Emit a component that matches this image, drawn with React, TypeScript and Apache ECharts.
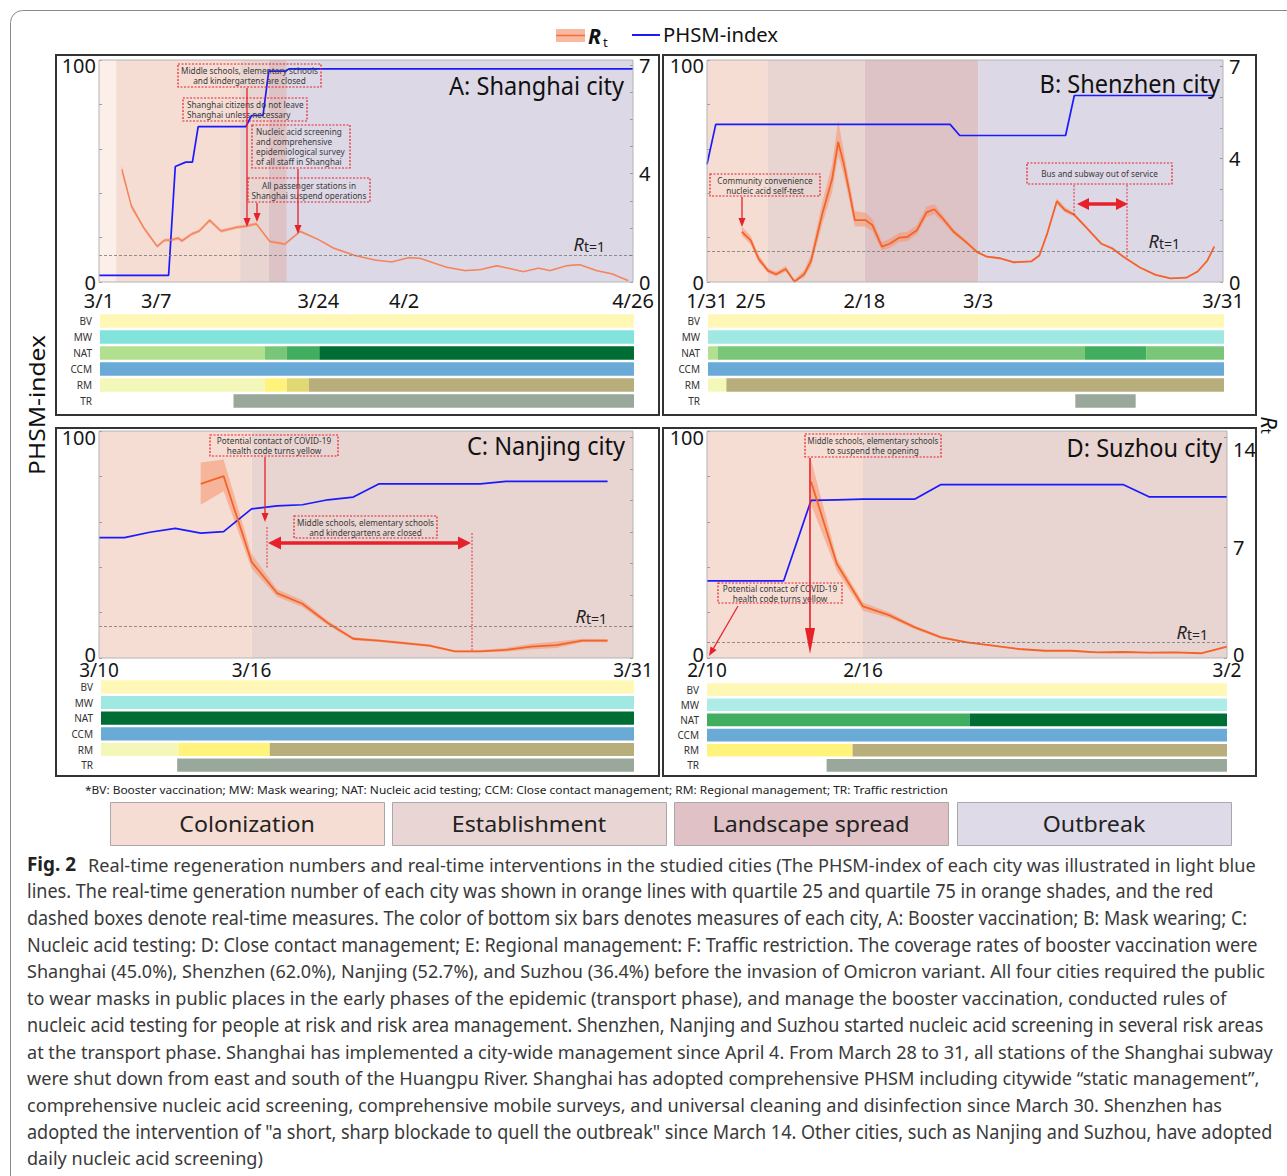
import React, { useEffect, useRef } from "react";
import * as echarts from "echarts";

const W = 1287;
const H = 1176;
const FONT = '"Noto Sans", "Open Sans", "DejaVu Sans", sans-serif';
const RED = "#e8202a";

// ---------------- categories & ticks ----------------
const panelTitles = ["A: Shanghai city", "B: Shenzhen city", "C: Nanjing city", "D: Suzhou city"];
const spanDays = [56, 59, 21, 20];
const tickDaysA = [0, 6, 23, 32, 56];
const tickLabelsA = ["3/1", "3/7", "3/24", "4/2", "4/26"];
const tickDaysB = [0, 5, 18, 31, 59];
const tickLabelsB = ["1/31", "2/5", "2/18", "3/3", "3/31"];
const tickDaysC = [0, 6, 21];
const tickLabelsC = ["3/10", "3/16", "3/31"];
const tickDaysD = [0, 6, 20];
const tickLabelsD = ["2/10", "2/16", "3/2"];
const rtMax = [8.2, 7.2, 7.2, 14.4];
const rtTickValsA = [0, 4, 8];
const rtTickTextA = ["0", "4", "7"];
const rtTickValsB = [0, 4, 7];
const rtTickTextB = ["0", "4", "7"];
const rtTickValsC: number[] = [];
const rtTickTextC: string[] = [];
const rtTickValsD = [0, 7, 13.2];
const rtTickTextD = ["0", "7", "14"];
const measureRows = ["BV", "MW", "NAT", "CCM", "RM", "TR"];
const stageNames = ["Colonization", "Establishment", "Landscape spread", "Outbreak"];

// ---------------- epidemic stages [startDay, endDay, stage] ----------------
const stagesA = [[0, 1.8, 0], [1.8, 14.8, 1], [14.8, 17.8, 2], [17.8, 19.7, 3], [19.7, 56, 4]];
const stagesB = [[0, 6.9, 1], [6.9, 18.05, 2], [18.05, 31, 3], [31, 59, 4]];
const stagesC = [[0, 6, 1], [6, 21, 2]];
const stagesD = [[0, 6, 1], [6, 20, 2]];

// ---------------- PHSM-index [day, value] ----------------
const phsmA = [[0, 3], [7.3, 3], [8.0, 52], [9.1, 54], [9.8, 54], [10.4, 70], [15.4, 70], [16.0, 75], [17.2, 75], [17.8, 95], [19.6, 95], [19.9, 96], [56, 96]];
const phsmB = [[0, 53], [1, 71], [27.8, 71], [28.9, 66], [41, 66], [42, 84], [58, 84]];
const phsmC = [[0, 53], [1, 53], [2, 55.4], [3, 57.1], [4, 55], [4.9, 55.7], [6, 65.7], [7, 67], [8, 67.5], [9, 69.7], [10, 70.9], [11, 76.7], [15, 76.7], [16, 77.8], [20, 77.8]];
const phsmD = [[0, 34], [2.95, 34], [4, 69.4], [5, 69.7], [6, 70], [8, 70], [9, 76.4], [16, 76.4], [17, 71], [20, 71]];

// ---------------- Rt (median, quartile 25, quartile 75) ----------------
const rtDaysA = [2.4, 3.4, 4.7, 6.1, 6.9, 7.5, 8.3, 8.7, 9.75, 10.5, 11.6, 12.8, 14.4, 15.4, 16.5, 17.9, 19.5, 21.1, 23, 24.6, 26.9, 29, 30.7, 32.5, 33.7, 36.4, 38.4, 40, 41.7, 42.9, 44.5, 46.1, 47.3, 49, 50.4, 52.2, 53.8, 55.5];
const rtA = [4.15, 2.8, 2.0, 1.32, 1.55, 1.55, 1.62, 1.52, 1.78, 1.88, 2.28, 1.88, 2.02, 2.06, 2.15, 1.5, 1.4, 1.87, 1.57, 1.25, 0.97, 0.81, 0.74, 0.9, 0.87, 0.55, 0.42, 0.46, 0.6, 0.51, 0.38, 0.51, 0.42, 0.6, 0.64, 0.42, 0.3, 0.05];
const rtLowA = [4.0, 2.7, 1.93, 1.26, 1.49, 1.49, 1.56, 1.46, 1.72, 1.82, 2.21, 1.82, 1.96, 2.0, 2.09, 1.45, 1.35, 1.82, 1.53, 1.21, 0.94, 0.78, 0.71, 0.87, 0.84, 0.52, 0.39, 0.43, 0.57, 0.48, 0.35, 0.48, 0.39, 0.57, 0.61, 0.39, 0.27, 0.02];
const rtHighA = [4.3, 2.9, 2.07, 1.38, 1.61, 1.61, 1.68, 1.58, 1.84, 1.94, 2.35, 1.94, 2.08, 2.12, 2.21, 1.55, 1.45, 1.92, 1.61, 1.29, 1.0, 0.84, 0.77, 0.93, 0.9, 0.58, 0.45, 0.49, 0.63, 0.54, 0.41, 0.54, 0.45, 0.63, 0.67, 0.45, 0.33, 0.08];

const rtDaysB = [3.98, 5.0, 5.9, 7.0, 7.9, 9.0, 10.0, 11.1, 11.9, 13.2, 14.3, 15.0, 15.6, 16.3, 16.9, 18.1, 18.9, 20.0, 20.9, 22.0, 22.9, 24.0, 25.1, 26.0, 27.1, 28.2, 29.6, 30.9, 32.0, 33.5, 35.1, 37.1, 38.0, 38.9, 40.0, 40.9, 42.0, 43.3, 45.1, 46.4, 47.7, 49.5, 51.3, 53.0, 54.8, 56.1, 57.2, 58.0];
const rtB = [1.63, 1.35, 0.75, 0.36, 0.25, 0.42, 0.01, 0.25, 0.69, 2.23, 3.33, 4.54, 3.88, 2.89, 2.01, 2.01, 1.85, 1.15, 1.24, 1.44, 1.46, 1.68, 2.26, 2.36, 2.01, 1.63, 1.3, 0.97, 0.82, 0.77, 0.64, 0.67, 0.86, 1.57, 2.62, 2.34, 2.18, 1.79, 1.24, 1.08, 0.8, 0.47, 0.23, 0.12, 0.14, 0.34, 0.69, 1.15];
const rtLowB = [1.5, 1.22, 0.65, 0.28, 0.18, 0.34, 0.0, 0.15, 0.5, 1.9, 2.9, 4.1, 3.5, 2.6, 1.8, 1.8, 1.65, 1.02, 1.1, 1.3, 1.32, 1.55, 2.1, 2.2, 1.9, 1.55, 1.24, 0.93, 0.79, 0.74, 0.61, 0.64, 0.82, 1.5, 2.52, 2.26, 2.12, 1.75, 1.21, 1.05, 0.77, 0.45, 0.21, 0.1, 0.12, 0.31, 0.65, 1.1];
const rtHighB = [1.8, 1.5, 0.88, 0.45, 0.33, 0.52, 0.08, 0.38, 0.9, 2.6, 3.8, 5.25, 4.3, 3.2, 2.3, 2.25, 2.05, 1.3, 1.4, 1.6, 1.62, 1.85, 2.45, 2.52, 2.12, 1.72, 1.36, 1.01, 0.85, 0.8, 0.67, 0.7, 0.9, 1.64, 2.72, 2.44, 2.24, 1.83, 1.27, 1.11, 0.83, 0.49, 0.25, 0.14, 0.16, 0.37, 0.73, 1.2];

const rtDaysC = [4, 4.9, 6, 7, 8, 9, 10, 11, 11.9, 13, 14, 15, 16, 17, 18, 19, 20];
const rtC = [5.52, 5.77, 3.05, 2.06, 1.72, 1.11, 0.61, 0.55, 0.48, 0.39, 0.21, 0.21, 0.26, 0.36, 0.41, 0.55, 0.55];
const rtLowC = [4.86, 5.29, 2.84, 1.94, 1.62, 1.04, 0.56, 0.51, 0.44, 0.35, 0.18, 0.18, 0.2, 0.28, 0.32, 0.5, 0.5];
const rtHighC = [6.2, 6.3, 3.3, 2.18, 1.83, 1.18, 0.66, 0.59, 0.52, 0.43, 0.24, 0.25, 0.32, 0.45, 0.52, 0.61, 0.6];

const rtDaysD = [4, 5, 6, 7, 8, 9, 10, 11, 12, 13, 14, 15, 16, 17, 18, 19, 20];
const rtD = [11.2, 5.95, 3.27, 2.72, 1.94, 1.31, 0.99, 0.78, 0.57, 0.46, 0.46, 0.36, 0.38, 0.34, 0.36, 0.3, 0.72];
const rtLowD = [9.75, 5.5, 3.0, 2.55, 1.82, 1.22, 0.93, 0.73, 0.53, 0.42, 0.42, 0.32, 0.34, 0.3, 0.32, 0.26, 0.66];
const rtHighD = [12.6, 6.3, 3.52, 2.9, 2.05, 1.4, 1.05, 0.83, 0.61, 0.5, 0.5, 0.4, 0.42, 0.38, 0.4, 0.34, 0.78];

// ---------------- intervention bars [measure, startDay, endDay, level] ----------------
const measuresA = [["BV", 0, 56, 0], ["MW", 0, 56, 2], ["NAT", 0, 17.3, 0], ["NAT", 17.3, 19.6, 1], ["NAT", 19.6, 23, 2], ["NAT", 23, 56, 3], ["CCM", 0, 56, 0], ["RM", 0, 17.3, 0], ["RM", 17.3, 19.6, 1], ["RM", 19.6, 21.9, 2], ["RM", 21.9, 56, 3], ["TR", 14, 56, 0]];
const measuresB = [["BV", 0, 59, 0], ["MW", 0, 59, 1], ["NAT", 0, 1.1, 0], ["NAT", 1.1, 43.1, 1], ["NAT", 43.1, 50.1, 2], ["NAT", 50.1, 59, 1], ["CCM", 0, 59, 0], ["RM", 0, 2.1, 0], ["RM", 2.1, 59, 3], ["TR", 42, 48.9, 0]];
const measuresC = [["BV", 0, 21, 0], ["MW", 0, 21, 1], ["NAT", 0, 21, 3], ["CCM", 0, 21, 0], ["RM", 0, 3.05, 0], ["RM", 3.05, 6.65, 1], ["RM", 6.65, 21, 3], ["TR", 3, 21, 0]];
const measuresD = [["BV", 0, 20, 0], ["MW", 0, 20, 0], ["NAT", 0, 10.1, 2], ["NAT", 10.1, 20, 3], ["CCM", 0, 20, 0], ["RM", 0, 5.6, 1], ["RM", 5.6, 20, 3], ["TR", 4.6, 20, 0]];

// ---------------- caption text ----------------
const footnote = "*BV: Booster vaccination; MW: Mask wearing; NAT: Nucleic acid testing; CCM: Close contact management; RM: Regional management; TR: Traffic restriction";
const captionLines = [
  "Real-time regeneration numbers and real-time interventions in the studied cities (The PHSM-index of each city was illustrated in light blue",
  "lines. The real-time generation number of each city was shown in orange lines with quartile 25 and quartile 75 in orange shades, and the red",
  "dashed boxes denote real-time measures. The color of bottom six bars denotes measures of each city, A: Booster vaccination; B: Mask wearing; C:",
  "Nucleic acid testing: D: Close contact management; E: Regional management: F: Traffic restriction. The coverage rates of booster vaccination were",
  "Shanghai (45.0%), Shenzhen (62.0%), Nanjing (52.7%), and Suzhou (36.4%) before the invasion of Omicron variant. All four cities required the public",
  "to wear masks in public places in the early phases of the epidemic (transport phase), and manage the booster vaccination, conducted rules of",
  "nucleic acid testing for people at risk and risk area management. Shenzhen, Nanjing and Suzhou started nucleic acid screening in several risk areas",
  "at the transport phase. Shanghai has implemented a city-wide management since April 4. From March 28 to 31, all stations of the Shanghai subway",
  "were shut down from east and south of the Huangpu River. Shanghai has adopted comprehensive PHSM including citywide \u201cstatic management\u201d,",
  "comprehensive nucleic acid screening, comprehensive mobile surveys, and universal cleaning and disinfection since March 30. Shenzhen has",
  "adopted the intervention of \"a short, sharp blockade to quell the outbreak\" since March 14. Other cities, such as Nanjing and Suzhou, have adopted",
  "daily nucleic acid screening)",
];

// ---------------- annotation texts ----------------
const noteTexts = [
  ["Middle schools, elementary schools", "and kindergartens are closed"],
  ["Shanghai citizens do not leave", "Shanghai unless necessary"],
  ["Nucleic acid screening", "and comprehensive", "epidemiological survey", "of all staff in Shanghai"],
  ["All passenger stations in", "Shanghai suspend operations"],
  ["Community convenience", "nucleic acid self-test"],
  ["Bus and subway out of service"],
  ["Potential contact of COVID-19", "health code turns yellow"],
  ["Middle schools, elementary schools", "and kindergartens are closed"],
  ["Middle schools, elementary schools", "to suspend the opening"],
  ["Potential contact of COVID-19", "health code turns yellow"],
];

// ================= styles / layout =================
const stageColors = ["#fcefe9", "#f5ddd4", "#e8d4d1", "#ddc2c6", "#ddd8e6"];
const stageLegendColors = ["#f6ddd4", "#e9d5d3", "#dfc1c6", "#dedae8"];
const measureColors: Record<string, string[]> = {
  BV: ["#fff7b6"],
  MW: ["#aeece7", "#9fe9e2", "#82e3dc"],
  NAT: ["#b3e08f", "#79c679", "#40ae5e", "#006d34"],
  CCM: ["#6aaad6"],
  RM: ["#f3f8b9", "#fff37c", "#e1d873", "#b7ae7c"],
  TR: ["#99a89a"],
};
const mainBox = [
  { left: 99, top: 60, width: 534, height: 222 },
  { left: 707, top: 60, width: 516, height: 222 },
  { left: 99, top: 431, width: 534, height: 227 },
  { left: 707, top: 431, width: 520, height: 227 },
];
const barBox = [
  { left: 100, top: 313, width: 534, height: 96 },
  { left: 708, top: 313, width: 516, height: 96 },
  { left: 101, top: 679, width: 533, height: 94 },
  { left: 707, top: 682, width: 520, height: 91 },
];
const frames = [[56, 55, 603, 360], [663, 55, 593, 360], [56, 428, 603, 348], [663, 428, 593, 348]];
const xLabelMargin = [8, 8, 2, 2];
const xLabelSize = [20, 20, 19, 19];
const leftTopPad = [10, 10, 12, 12];
const leftBottomPad = [0, 0, 8, 8];
const rightBottomPad = [0, 0, 0, 8];
const rtLabelPad = [27, 42, 25, 18];
const rtLineWidth = [1.3, 1.8, 1.8, 1.8];
const rtLineColor = ["#f4825a", "#f4632a", "#f4632a", "#f4632a"];
const titlePos = [[624, 85], [1220, 83], [625, 445], [1222, 447]];
const noteBoxes = [
  [178, 64, 143, 23, "c"], [183, 98, 124, 23, "l"], [252, 125, 98, 43, "l"], [248, 178, 122, 24, "c"],
  [710, 174, 110, 22, "c"], [1027, 163, 145, 21, "c"], [210, 435, 128, 21, "c"], [294, 516, 143, 22, "c"],
  [805, 434, 136, 23, "c"], [718, 583, 124, 20, "c"],
];
const captionStart = [88, 27, 27, 27, 27, 27, 27, 27, 27, 27, 27, 27];
const captionEnd = [1257, 1215, 1248, 1258, 1266, 1228, 1265, 1274, 1260, 1223, 1273, 0];

let measureCtx: CanvasRenderingContext2D | null = null;
function measureWidth(text: string, size: number, weight = "normal", style = "normal") {
  if (!measureCtx) measureCtx = document.createElement("canvas").getContext("2d");
  measureCtx!.font = `${style} ${weight} ${size}px ${FONT}`;
  return measureCtx!.measureText(text).width || 1;
}

function txt(text: string, x: number, y: number, size: number, o: any = {}) {
  const align = o.align || "left";
  return {
    type: "text", x, y, z: 100, silent: true,
    scaleX: o.scaleX || 1, rotation: o.rotation || 0,
    style: {
      text, fontSize: size, fontFamily: FONT, fontWeight: o.weight || "normal", fontStyle: o.style || "normal",
      fill: o.fill || "#222", textAlign: align, align, textVerticalAlign: "middle", verticalAlign: "middle",
      rich: o.rich,
    },
  };
}
function fit(text: string, x: number, y: number, size: number, target: number, o: any = {}) {
  const w = measureWidth(text, size, o.weight, o.style);
  return txt(text, x, y, size, { ...o, scaleX: target / w });
}
function line(x1: number, y1: number, x2: number, y2: number, w = 1.3, dash: any = null, color = RED) {
  return { type: "line", z: 100, silent: true, shape: { x1, y1, x2, y2 }, style: { stroke: color, lineWidth: w, lineDash: dash } };
}
function head(tx: number, ty: number, fx: number, fy: number, len: number, half: number) {
  const dx = tx - fx, dy = ty - fy, L = Math.hypot(dx, dy);
  const ux = dx / L, uy = dy / L;
  const bx = tx - ux * len, by = ty - uy * len;
  return {
    type: "polygon", z: 101, silent: true,
    shape: { points: [[tx, ty], [bx - uy * half, by + ux * half], [bx + uy * half, by - ux * half]] },
    style: { fill: RED },
  };
}
function arrow(x1: number, y1: number, x2: number, y2: number, w = 1.3, len = 9, half = 3.5) {
  const dx = x2 - x1, dy = y2 - y1, L = Math.hypot(dx, dy);
  return [line(x1, y1, x2 - (dx / L) * (len - 1), y2 - (dy / L) * (len - 1), w), head(x2, y2, x1, y1, len, half)];
}
function dbl(x1: number, x2: number, y: number, w: number, len: number, half: number) {
  return [line(x1 + len - 1, y, x2 - len + 1, y, w), head(x1, y, x2, y, len, half), head(x2, y, x1, y, len, half)];
}

function buildOption() {
  const tickDays = [tickDaysA, tickDaysB, tickDaysC, tickDaysD];
  const tickLabels = [tickLabelsA, tickLabelsB, tickLabelsC, tickLabelsD];
  const rtTickVals = [rtTickValsA, rtTickValsB, rtTickValsC, rtTickValsD];
  const rtTickText = [rtTickTextA, rtTickTextB, rtTickTextC, rtTickTextD];
  const stages = [stagesA, stagesB, stagesC, stagesD];
  const phsm = [phsmA, phsmB, phsmC, phsmD];
  const rtDays = [rtDaysA, rtDaysB, rtDaysC, rtDaysD];
  const rt = [rtA, rtB, rtC, rtD];
  const rtLow = [rtLowA, rtLowB, rtLowC, rtLowD];
  const rtHigh = [rtHighA, rtHighB, rtHighC, rtHighD];
  const measures = [measuresA, measuresB, measuresC, measuresD];

  const grid: any[] = [];
  const xAxis: any[] = [];
  const yAxis: any[] = [];
  const series: any[] = [];
  const labelTxt = { fontSize: 20, fontFamily: FONT, color: "#151515" };

  for (let i = 0; i < 4; i++) {
    const N = spanDays[i];
    grid.push({ ...mainBox[i], show: true, backgroundColor: "rgba(0,0,0,0)", borderColor: "#b4b4b4", borderWidth: 1, z: 10, outerBoundsMode: "none", containLabel: false });
    grid.push({ ...barBox[i], show: false, outerBoundsMode: "none", containLabel: false });

    xAxis.push({
      gridIndex: 2 * i, type: "value", min: 0, max: N,
      axisLine: { show: false }, axisTick: { show: false }, splitLine: { show: false },
      axisLabel: {
        customValues: tickDays[i], ...labelTxt, fontSize: xLabelSize[i], margin: xLabelMargin[i], hideOverlap: false,
        formatter: (v: number) => { const k = tickDays[i].findIndex((d) => Math.abs(d - v) < 1e-6); return k >= 0 ? tickLabels[i][k] : ""; },
      },
    });
    xAxis.push({ gridIndex: 2 * i + 1, type: "value", min: 0, max: N, show: false });

    yAxis.push({
      gridIndex: 2 * i, type: "value", min: 0, max: 100, position: "left",
      axisLine: { show: false }, splitLine: { show: false },
      axisTick: { show: true, inside: true, length: 3, customValues: [0, 20, 40, 60, 80, 100], lineStyle: { color: "#9a9a9a" } },
      axisLabel: {
        customValues: [0, 100], ...labelTxt, margin: 3,
        formatter: (v: number) => (v >= 100 ? "{t|100}" : "{b|0}"),
        rich: {
          t: { ...labelTxt, padding: [leftTopPad[i], 0, 0, 0] },
          b: { ...labelTxt, padding: [0, 0, leftBottomPad[i], 0] },
        },
      },
    });
    const intTicks: number[] = [];
    for (let k = 0; k <= Math.floor(rtMax[i]); k += i === 3 ? 7 : 1) intTicks.push(k);
    yAxis.push({
      gridIndex: 2 * i, type: "value", min: 0, max: rtMax[i], position: "right",
      axisLine: { show: false }, splitLine: { show: false },
      axisTick: { show: true, inside: true, length: 3, customValues: intTicks, lineStyle: { color: "#9a9a9a" } },
      axisLabel: {
        show: rtTickVals[i].length > 0, customValues: rtTickVals[i], ...labelTxt, margin: 6,
        formatter: (v: number) => {
          const k = rtTickVals[i].findIndex((d) => Math.abs(d - v) < 1e-6);
          if (k < 0) return "";
          return v === 0 ? "{b|" + rtTickText[i][k] + "}" : "{n|" + rtTickText[i][k] + "}";
        },
        rich: { n: { ...labelTxt }, b: { ...labelTxt, padding: [0, 0, rightBottomPad[i], 0] } },
      },
    });
    yAxis.push({
      gridIndex: 2 * i + 1, type: "category", data: measureRows, inverse: true,
      axisLine: { show: false }, axisTick: { show: false }, splitLine: { show: false },
      axisLabel: { fontSize: 10, fontFamily: FONT, color: "#333", margin: 8 },
    });

    const st = stages[i];
    series.push({
      type: "custom", xAxisIndex: 2 * i, yAxisIndex: 3 * i, z: 0, silent: true,
      data: st, encode: { x: [0, 1] },
      renderItem: (params: any, api: any) => {
        const p0 = api.coord([api.value(0), 100]);
        const p1 = api.coord([api.value(1), 0]);
        return { type: "rect", shape: { x: p0[0], y: p0[1], width: p1[0] - p0[0], height: p1[1] - p0[1] }, style: { fill: stageColors[st[params.dataIndex][2]] } };
      },
    });

    const days = rtDays[i], lo = rtLow[i], hi = rtHigh[i];
    series.push({
      type: "custom", xAxisIndex: 2 * i, yAxisIndex: 3 * i + 1, z: 1, silent: true,
      data: days.map((d, k) => [d, lo[k], hi[k]]), encode: { x: 0, y: [1, 2] },
      renderItem: (params: any, api: any) => {
        if (params.dataIndex !== 0) return null;
        const top = days.map((d, k) => api.coord([d, hi[k]]));
        const bot = days.map((d, k) => api.coord([d, lo[k]])).reverse();
        return { type: "polygon", shape: { points: top.concat(bot) }, style: { fill: "#f6946c", opacity: 0.55 } };
      },
    });

    series.push({
      type: "line", name: "PHSM-index", xAxisIndex: 2 * i, yAxisIndex: 3 * i, z: 3, silent: true,
      data: phsm[i], symbol: "none", lineStyle: { color: "#1a1aff", width: 1.7 },
    });

    series.push({
      type: "line", name: "Rt", xAxisIndex: 2 * i, yAxisIndex: 3 * i + 1, z: 4, silent: true,
      data: days.map((d, k) => [d, rt[i][k]]), symbol: "none",
      lineStyle: { color: rtLineColor[i], width: rtLineWidth[i] },
      markLine: {
        silent: true, symbol: ["none", "none"], animation: false,
        data: [{ yAxis: 1 }],
        lineStyle: { color: "#777", type: [3, 2], width: 0.8 },
        label: {
          show: true, position: "insideEndTop", distance: 1,
          padding: [0, rtLabelPad[i], 0, 0],
          formatter: "{r|R}{s|t=1}",
          rich: {
            r: { fontSize: 18, fontStyle: "italic", fontFamily: FONT, color: "#222" },
            s: { fontSize: 14, fontFamily: FONT, color: "#222", padding: [5, 0, 0, 0] },
          },
        },
        emphasis: { disabled: true },
      },
    });

    const segs = measures[i];
    series.push({
      type: "custom", xAxisIndex: 2 * i + 1, yAxisIndex: 3 * i + 2, z: 2, silent: true,
      data: segs, encode: { x: [1, 2], y: 0 },
      dimensions: [{ name: "row", type: "ordinal" }, "start", "end", "level"],
      renderItem: (params: any, api: any) => {
        const seg = segs[params.dataIndex] as any[];
        const row = measureRows.indexOf(seg[0]);
        const s = api.coord([seg[1], row]);
        const e = api.coord([seg[2], row]);
        const h = api.size([0, 1])[1] * 0.84;
        return { type: "rect", shape: { x: s[0], y: s[1] - h / 2, width: e[0] - s[0], height: h }, style: { fill: measureColors[seg[0]][seg[3]] } };
      },
    });
  }

  // ---------------- graphics ----------------
  const el: any[] = [];
  el.push({ type: "rect", z: 90, silent: true, shape: { x: 10.5, y: 10.5, width: 1300, height: 1200, r: 12 }, style: { fill: "none", stroke: "#8a8a8a", lineWidth: 1 } });
  frames.forEach((f) => el.push({ type: "rect", z: 100, silent: true, shape: { x: f[0], y: f[1], width: f[2], height: f[3] }, style: { fill: "none", stroke: "#333", lineWidth: 2 } }));

  // top legend
  el.push({ type: "rect", z: 100, silent: true, shape: { x: 556, y: 29, width: 29, height: 13 }, style: { fill: "#f9b9a0" } });
  el.push(line(556, 35.5, 585, 35.5, 1.5, null, "#f07040"));
  el.push(txt("R", 588, 36, 21, { style: "italic", weight: "bold", fill: "#111" }));
  el.push(txt("t", 603, 42, 13, { fill: "#111" }));
  el.push(line(632, 35, 660, 35, 2, null, "#1a1aff"));
  el.push(fit("PHSM-index", 663, 35, 20, 115, { fill: "#111" }));

  // side titles
  el.push(fit("PHSM-index", 37, 405, 22, 140, { align: "center", rotation: Math.PI / 2, fill: "#111" }));
  el.push(txt("{r|R}{t|t}", 1270, 425, 22, {
    align: "center", rotation: -Math.PI / 2, fill: "#111",
    rich: { r: { fontSize: 22, fontStyle: "italic", fontFamily: FONT, fill: "#111" }, t: { fontSize: 14, fontFamily: FONT, fill: "#111", padding: [8, 0, 0, 0] } },
  }));

  // panel titles
  const kT = 175 / measureWidth(panelTitles[0], 25);
  panelTitles.forEach((t, i) => el.push(txt(t, titlePos[i][0], titlePos[i][1], 25, { align: "right", scaleX: kT, fill: "#111" })));

  // annotation boxes
  const annoK = 137 / measureWidth("Middle schools, elementary schools", 8.5);
  noteBoxes.forEach((b: any, n) => {
    const [x, y, w, h, al] = b;
    el.push({ type: "rect", z: 100, silent: true, shape: { x, y, width: w, height: h }, style: { fill: "none", stroke: RED, lineWidth: 1.2, lineDash: [2, 1.5] } });
    const lines = noteTexts[n];
    const y0 = y + h / 2 - ((lines.length - 1) * 10) / 2;
    lines.forEach((s, k) => {
      const mw = measureWidth(s, 8.5);
      const sc = Math.min(annoK, (w - 5) / mw);
      el.push(txt(s, al === "c" ? x + w / 2 : x + 4, y0 + k * 10, 8.5, { align: al === "c" ? "center" : "left", scaleX: sc, fill: "#3a3a3a" }));
    });
  });

  // arrows
  el.push(...arrow(247, 88, 247, 227));
  el.push(...arrow(257, 203, 257, 222));
  el.push(...arrow(298, 169, 298, 234));
  el.push(...arrow(742, 197, 742, 227));
  el.push(line(1074, 185, 1074, 216, 0.9, [2, 1.5]));
  el.push(line(1127, 185, 1127, 257, 0.9, [2, 1.5]));
  el.push(...dbl(1077, 1128, 204, 3.5, 12, 6));
  el.push(...arrow(265, 457, 265, 522));
  el.push(line(267, 527, 267, 568, 0.9, [2, 1.5]));
  el.push(line(472, 533, 472, 650, 0.9, [2, 1.5]));
  el.push(...dbl(268, 471, 543, 3.5, 13, 6.5));
  el.push(...arrow(810, 458, 810, 654, 1.6, 26, 5));
  el.push(...arrow(738, 606, 709, 656, 1.2, 9, 3.5));

  // footnote & stage legend
  el.push(fit(footnote, 85, 789, 11.5, 864, { fill: "#222" }));
  const kS = 197 / measureWidth("Landscape spread", 22);
  const legendX = [110, 392, 674, 957];
  stageNames.forEach((s, i) => {
    el.push({ type: "rect", z: 100, silent: true, shape: { x: legendX[i] + 0.5, y: 802.5, width: 274, height: 43 }, style: { fill: stageLegendColors[i], stroke: "#a8a8a8", lineWidth: 1 } });
    el.push(txt(s, legendX[i] + 137, 824, 22, { align: "center", scaleX: kS, fill: "#222" }));
  });

  // caption
  el.push(fit("Fig. 2", 27, 864, 19, 49, { weight: "bold", fill: "#222" }));
  const scales: number[] = [];
  captionLines.forEach((s, k) => {
    if (captionEnd[k] > 0) scales.push((captionEnd[k] - captionStart[k]) / measureWidth(s, 19));
  });
  const meanScale = scales.reduce((a, b) => a + b, 0) / scales.length;
  captionLines.forEach((s, k) => {
    const sc = captionEnd[k] > 0 ? (captionEnd[k] - captionStart[k]) / measureWidth(s, 19) : meanScale;
    el.push(txt(s, captionStart[k], 864 + k * 26.7, 19, { scaleX: sc, fill: "#3a3a3a" }));
  });

  return {
    animation: false,
    backgroundColor: "#ffffff",
    textStyle: { fontFamily: FONT },
    grid, xAxis, yAxis, series,
    graphic: { elements: el },
  };
}

export default function App() {
  const ref = useRef<HTMLDivElement>(null);
  useEffect(() => {
    document.body.style.margin = "0";
    const chart = echarts.init(ref.current!, null, { renderer: "svg", width: W, height: H });
    chart.setOption(buildOption() as any);
    return () => chart.dispose();
  }, []);
  return <div ref={ref} style={{ width: W, height: H }} />;
}
